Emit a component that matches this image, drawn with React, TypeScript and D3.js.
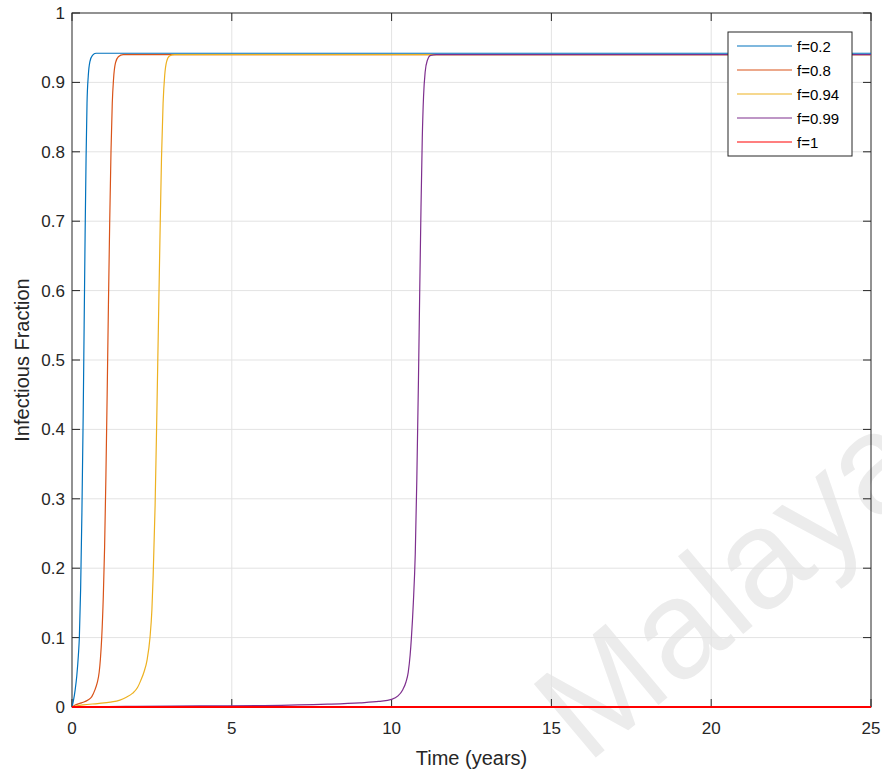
import * as React from 'react';
import * as d3 from 'd3';

// time (years), infectious fraction
const f02: [number, number][] = [
  [0, 0], [0.04, 0.008], [0.1, 0.025], [0.15, 0.045], [0.2, 0.075], [0.23, 0.1],
  [0.27, 0.17], [0.31, 0.28], [0.35, 0.42], [0.38, 0.55], [0.41, 0.68], [0.44, 0.79],
  [0.47, 0.87], [0.51, 0.91], [0.56, 0.93], [0.64, 0.939], [0.75, 0.942], [25, 0.942],
];
const f08: [number, number][] = [
  [0, 0], [0.1, 0.003], [0.3, 0.006], [0.5, 0.01], [0.62, 0.015], [0.72, 0.025],
  [0.79, 0.035], [0.85, 0.05], [0.89, 0.07], [0.93, 0.1], [0.98, 0.16], [1.02, 0.23],
  [1.06, 0.33], [1.1, 0.45], [1.14, 0.58], [1.18, 0.7], [1.22, 0.8], [1.26, 0.87],
  [1.3, 0.905], [1.36, 0.928], [1.45, 0.937], [1.6, 0.94], [25, 0.94],
];
const f094: [number, number][] = [
  [0, 0], [0.35, 0.003], [0.8, 0.005], [1.2, 0.007], [1.5, 0.01], [1.7, 0.014],
  [1.9, 0.02], [2.05, 0.028], [2.15, 0.038], [2.25, 0.05], [2.35, 0.068], [2.44, 0.1],
  [2.5, 0.14], [2.54, 0.19], [2.6, 0.29], [2.65, 0.41], [2.7, 0.54], [2.75, 0.67],
  [2.8, 0.79], [2.85, 0.87], [2.9, 0.91], [2.96, 0.93], [3.05, 0.938], [3.2, 0.94], [25, 0.94],
];
const f099: [number, number][] = [
  [0, 0], [2, 0.001], [4, 0.0015], [6, 0.002], [8, 0.004], [9, 0.006], [9.6, 0.008],
  [10, 0.011], [10.2, 0.016], [10.35, 0.025], [10.45, 0.036], [10.52, 0.05], [10.58, 0.075],
  [10.62, 0.1], [10.68, 0.15], [10.74, 0.22], [10.79, 0.33], [10.84, 0.47], [10.88, 0.6],
  [10.92, 0.72], [10.96, 0.82], [11.0, 0.88], [11.05, 0.915], [11.12, 0.932], [11.22, 0.939],
  [11.4, 0.94], [25, 0.94],
];
const f1: [number, number][] = [[0, 0], [25, 0]];

const seriesNames = ['f=0.2', 'f=0.8', 'f=0.94', 'f=0.99', 'f=1'];
const seriesData = [f02, f08, f094, f099, f1];
const seriesColors = ['#0072BD', '#D95319', '#EDB120', '#7E2F8E', '#FF0000'];

const xTicks = [0, 5, 10, 15, 20, 25];
const yTicks = [0, 0.1, 0.2, 0.3, 0.4, 0.5, 0.6, 0.7, 0.8, 0.9, 1];

const W = 882, H = 771;
const margin = { top: 13, right: 11, bottom: 64, left: 72 };
const font = 'Arial, "Liberation Sans", sans-serif';
const axisColor = '#262626';

export default function App() {
  const x = d3.scaleLinear().domain([0, 25]).range([margin.left, W - margin.right]);
  const y = d3.scaleLinear().domain([0, 1]).range([H - margin.bottom, margin.top]);
  const line = d3
    .line<[number, number]>()
    .x(d => x(d[0]))
    .y(d => y(d[1]))
    .curve(d3.curveMonotoneX);

  const x0 = x(0), x1 = x(25), y0 = y(0), y1 = y(1);
  const tl = 8;

  return (
    <svg width={W} height={H} style={{ position: 'absolute', left: 0, top: 0 }} fontFamily={font}>
      <rect width={W} height={H} fill="#fff" />
      <defs>
        <clipPath id="plot">
          <rect x={x0} y={y1 - 1} width={x1 - x0} height={y0 - y1 + 2} />
        </clipPath>
      </defs>

      {/* watermark */}
      <text
        transform="translate(587,765) rotate(-40)"
        fontSize={140}
        fill="#ececec"
        fontFamily={font}
      >
        Malaya
      </text>

      {/* grid */}
      <g stroke="#e3e3e3" strokeWidth={1}>
        {xTicks.slice(1, -1).map(t => (
          <line key={'gx' + t} x1={x(t)} x2={x(t)} y1={y1} y2={y0} />
        ))}
        {yTicks.slice(1, -1).map(t => (
          <line key={'gy' + t} x1={x0} x2={x1} y1={y(t)} y2={y(t)} />
        ))}
      </g>

      {/* box and ticks */}
      <g stroke={axisColor} strokeWidth={1} fill="none">
        <rect x={x0} y={y1} width={x1 - x0} height={y0 - y1} />
        {xTicks.map(t => (
          <g key={'tx' + t}>
            <line x1={x(t)} x2={x(t)} y1={y0} y2={y0 - tl} />
            <line x1={x(t)} x2={x(t)} y1={y1} y2={y1 + tl} />
          </g>
        ))}
        {yTicks.map(t => (
          <g key={'ty' + t}>
            <line x1={x0} x2={x0 + tl} y1={y(t)} y2={y(t)} />
            <line x1={x1} x2={x1 - tl} y1={y(t)} y2={y(t)} />
          </g>
        ))}
      </g>

      {/* curves */}
      <g clipPath="url(#plot)" fill="none">
        {seriesData.map((d, i) => (
          <path
            key={seriesNames[i]}
            d={line(d) || ''}
            stroke={seriesColors[i]}
            strokeWidth={i === 4 ? 1.8 : 1.2}
          />
        ))}
      </g>

      {/* tick labels */}
      <g fill={axisColor} fontSize={17}>
        {xTicks.map(t => (
          <text key={'lx' + t} x={x(t)} y={y0 + 27} textAnchor="middle">
            {d3.format('~g')(t)}
          </text>
        ))}
        {yTicks.map(t => (
          <text key={'ly' + t} x={x0 - 7} y={y(t) + 6} textAnchor="end">
            {d3.format('~g')(t)}
          </text>
        ))}
      </g>

      {/* axis labels */}
      <text x={(x0 + x1) / 2} y={y0 + 58} textAnchor="middle" fontSize={20} fill={axisColor}>
        Time (years)
      </text>
      <text
        transform={`translate(29,${(y0 + y1) / 2}) rotate(-90)`}
        textAnchor="middle"
        fontSize={20}
        fill={axisColor}
      >
        Infectious Fraction
      </text>

      {/* legend */}
      <g transform="translate(728,32)">
        <rect width={124} height={124} fill="#fff" stroke={axisColor} strokeWidth={1} />
        {seriesNames.map((n, i) => (
          <g key={n} transform={`translate(0,${14 + i * 24})`}>
            <line x1={9} x2={64} y1={0} y2={0} stroke={seriesColors[i]} strokeWidth={1.2} />
            <text x={69} y={5.5} fontSize={15} fill="#000">
              {n}
            </text>
          </g>
        ))}
      </g>
    </svg>
  );
}
